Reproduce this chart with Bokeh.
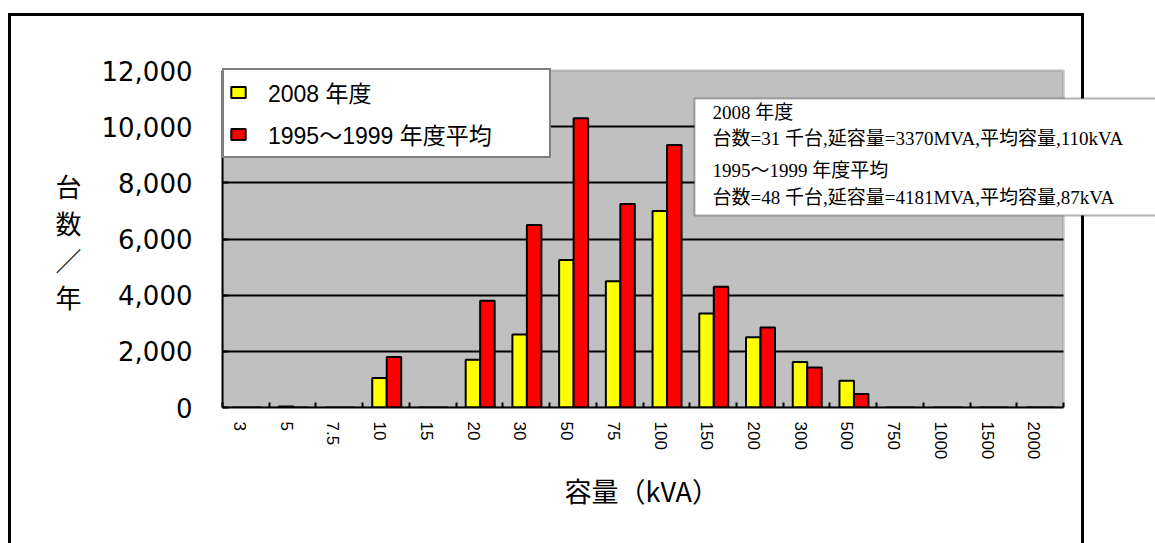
from bokeh.plotting import figure
from bokeh.models import (ColumnDataSource, Range1d, FixedTicker, NumeralTickFormatter,
                          Legend, LegendItem, Label, BoxAnnotation)
from bokeh.transform import dodge
from bokeh.embed import file_html
from bokeh.resources import INLINE

# ---- data ----
categories = ["3", "5", "7.5", "10", "15", "20", "30", "50", "75", "100",
              "150", "200", "300", "500", "750", "1000", "1500", "2000"]
units_2008 = [0, 40, 0, 1050, 0, 1700, 2600, 5250, 4500, 7000,
              3350, 2500, 1620, 950, 0, 0, 0, 0]
units_1995_1999 = [0, 0, 0, 1800, 0, 3800, 6500, 10300, 7250, 9350,
                   4300, 2850, 1420, 480, 0, 0, 0, 0]
y_ticks = [0, 2000, 4000, 6000, 8000, 10000, 12000]
series_names = ["2008 年度", "1995～1999 年度平均"]
note_lines = ["2008 年度",
              "台数=31 千台,延容量=3370MVA,平均容量,110kVA",
              "1995～1999 年度平均",
              "台数=48 千台,延容量=4181MVA,平均容量,87kVA"]
x_title = "容量（kVA）"
y_title = "台\n数\n／\n年"

n = len(categories)
y_max = 12000
idx = list(range(n))
src = ColumnDataSource(dict(idx=idx, a=units_2008, b=units_1995_1999))

# ---- layout (pixels) ----
W, H = 1155, 543
PL, PR, PT, PB = 222, 1063, 70, 407      # plot-area edges on the canvas
x_end = n * (W - PL) / (PR - PL)          # frame extends to the right canvas edge
y_end = y_max * PB / (PB - PT)            # frame extends to the top canvas edge
SP = "\u3000"                             # ideographic space used to offset the titles

p = figure(width=W, height=H, output_backend="svg", toolbar_location=None,
           x_range=Range1d(0, x_end), y_range=Range1d(0, y_end),
           min_border_left=PL, min_border_right=0, min_border_top=0,
           min_border_bottom=H - PB)

p.background_fill_alpha = 0
p.border_fill_alpha = 0
p.outline_line_color = None
# outer chart frame (behind the transparent canvas)
p.styles = {
    "background-color": "white",
    "background-image": "linear-gradient(#000,#000), linear-gradient(#000,#000), linear-gradient(#000,#000)",
    "background-size": "3px 540px, 1076px 3px, 3px 540px",
    "background-position": "8px 13px, 8px 13px, 1081px 13px",
    "background-repeat": "no-repeat",
}

# gray plot area
p.add_layout(BoxAnnotation(left=0, right=n, bottom=0, top=y_max,
                           fill_color="#C0C0C0", fill_alpha=1,
                           line_color="#808080", line_width=3, level="image"))

r1 = p.vbar(x=dodge("idx", 0.36), top="a", width=0.31, source=src,
            fill_color="#FFFF00", line_color="black", line_width=2)
r2 = p.vbar(x=dodge("idx", 0.67), top="b", width=0.31, source=src,
            fill_color="#FF0000", line_color="black", line_width=2)

# x axis
xa = p.xaxis[0]
xa.bounds = (0, n)
xa.ticker = FixedTicker(ticks=[i + 0.375 for i in idx], minor_ticks=list(range(n + 1)))
xa.major_label_overrides = {i + 0.375: c for i, c in zip(idx, categories)}
xa.major_label_orientation = "vertical"
xa.major_tick_in = 0
xa.major_tick_out = 0
xa.minor_tick_in = 5
xa.minor_tick_out = 0
xa.minor_tick_line_color = "black"
xa.minor_tick_line_width = 2
xa.axis_line_color = "black"
xa.axis_line_width = 2
xa.major_label_text_font = "Liberation Sans"
xa.major_label_text_font_size = "17px"
xa.major_label_text_color = "black"
xa.major_label_standoff = 14
xa.axis_label = x_title + SP * 4
xa.axis_label_text_font = "Noto Sans CJK JP"
xa.axis_label_text_font_size = "27px"
xa.axis_label_text_font_style = "normal"
xa.axis_label_text_color = "black"
xa.axis_label_standoff = 9

# y axis
ya = p.yaxis[0]
ya.bounds = (0, y_max)
ya.ticker = FixedTicker(ticks=y_ticks)
ya.formatter = NumeralTickFormatter(format="0,0")
ya.major_tick_in = 6
ya.major_tick_out = 0
ya.major_tick_line_color = "black"
ya.major_tick_line_width = 2
ya.minor_tick_line_color = None
ya.axis_line_color = "black"
ya.axis_line_width = 2
ya.major_label_text_font = "DejaVu Sans"
ya.major_label_text_font_size = "26px"
ya.major_label_text_color = "black"
ya.major_label_standoff = 30
ya.axis_label = SP + "\n" + SP + "\n" + y_title
ya.axis_label_text_font = "Noto Sans CJK JP"
ya.axis_label_text_font_size = "26px"
ya.axis_label_text_font_style = "normal"
ya.axis_label_text_color = "black"
ya.axis_label_text_line_height = 1.0
ya.axis_label_standoff = 17
if "axis_label_orientation" in ya.properties():
    ya.axis_label_orientation = "horizontal"

# grid
p.xgrid.grid_line_color = None
g = p.ygrid[0]
g.ticker = FixedTicker(ticks=y_ticks[1:-1])
g.grid_line_color = "black"
g.grid_line_width = 2
if "cross_bounds" in g.properties():
    g.cross_bounds = (0, n)
else:
    g.visible = False
    gy = y_ticks[1:-1]
    p.segment(x0=[0] * len(gy), x1=[n] * len(gy), y0=gy, y1=gy,
              line_color="black", line_width=2, level="underlay")

# legend
legend = Legend(items=[LegendItem(label=series_names[0], renderers=[r1]),
                       LegendItem(label=series_names[1], renderers=[r2])],
                location=(0, PB - 158))
legend.label_text_font = "Liberation Sans, Noto Sans CJK JP"
legend.label_text_font_size = "23px"
legend.label_text_color = "black"
legend.glyph_width = 18
legend.glyph_height = 14
legend.label_standoff = 21
legend.label_width = 276
legend.label_height = 26
legend.spacing = 8
legend.padding = 5
legend.margin = 0
legend.border_line_color = "black"
legend.border_line_width = 2
legend.background_fill_color = "white"
legend.background_fill_alpha = 1
p.add_layout(legend)

# note box
p.add_layout(BoxAnnotation(left=694, right=1175, top=98, bottom=215,
                           left_units="canvas", right_units="canvas",
                           top_units="canvas", bottom_units="canvas",
                           fill_color="white", fill_alpha=1, line_color="black", line_width=2))
for txt, cy in zip(note_lines, [112, 138, 170, 197]):
    p.add_layout(Label(x=712 - PL, y=PB - cy, x_units="screen", y_units="screen", text=txt,
                       text_font="Liberation Serif, Noto Sans CJK JP",
                       text_font_size="19px", text_align="left", text_baseline="middle",
                       text_color="black"))

open("out.html", "w").write(file_html(p, INLINE))
